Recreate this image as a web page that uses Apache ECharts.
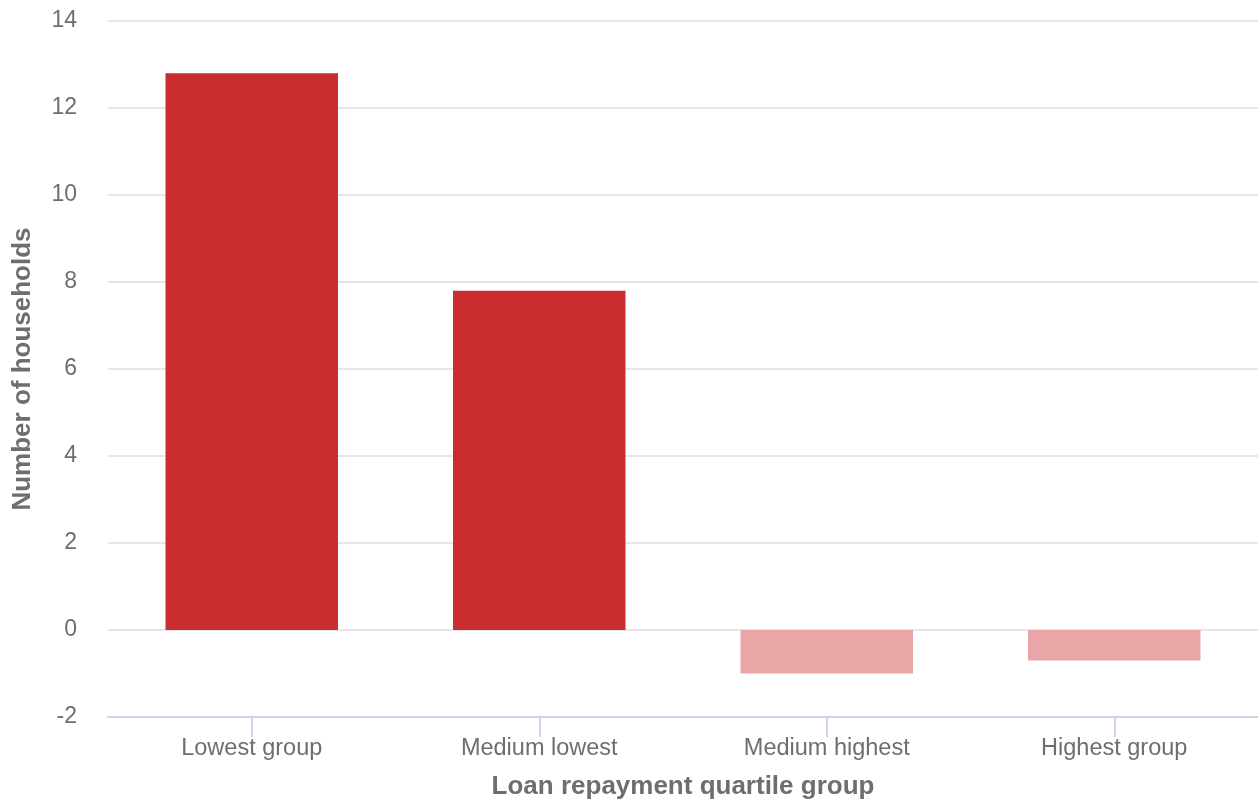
<!DOCTYPE html>
<html>
<head>
<meta charset="utf-8">
<script src="https://cdn.jsdelivr.net/npm/echarts@6/dist/echarts.min.js"></script>
<style>
    html, body { margin: 0; padding: 0; background: #fff; }
    #chart { width: 1258px; height: 805px; }
</style>
</head>
<body>
<div id="chart"></div>
<script>
// categories and values
const categories = ['Lowest group', 'Medium lowest', 'Medium highest', 'Highest group'];
const households = [12.8, 7.8, -1.0, -0.7];
const yTicks = { min: -2, max: 14, interval: 2 };

const chart = echarts.init(document.getElementById('chart'));
const textColor = '#6e6e6e';
const font = 'Liberation Sans, Arial, sans-serif';

chart.setOption({
    animation: false,
    grid: {
        left: 108,
        right: 0,
        top: 21,
        bottom: 86,
        containLabel: false
    },
    xAxis: {
        type: 'category',
        data: categories,
        name: 'Loan repayment quartile group',
        nameLocation: 'middle',
        nameGap: 57,
        nameTextStyle: { color: textColor, fontSize: 26, fontWeight: 'bold', fontFamily: font },
        axisLine: { show: true, onZero: false, lineStyle: { color: '#ccd3e6', width: 2 } },
        axisTick: { show: true, alignWithLabel: true, length: 20, lineStyle: { color: '#ccd3e6', width: 2 } },
        axisLabel: { color: textColor, fontSize: 23.5, margin: 20, fontFamily: font }
    },
    yAxis: {
        type: 'value',
        min: yTicks.min,
        max: yTicks.max,
        interval: yTicks.interval,
        name: 'Number of households',
        nameLocation: 'middle',
        nameGap: 72,
        nameTextStyle: { color: textColor, fontSize: 26, fontWeight: 'bold', fontFamily: font },
        axisLine: { show: false },
        axisTick: { show: false },
        axisLabel: { color: textColor, fontSize: 23, margin: 31, fontFamily: font },
        splitLine: { lineStyle: { color: '#e6e6e6', width: 2 } }
    },
    series: [{
        type: 'bar',
        data: households,
        barWidth: '60%',
        itemStyle: {
            color: p => p.value >= 0 ? '#cb2c30' : '#eaa5a6'
        }
    }]
});
</script>
</body>
</html>
